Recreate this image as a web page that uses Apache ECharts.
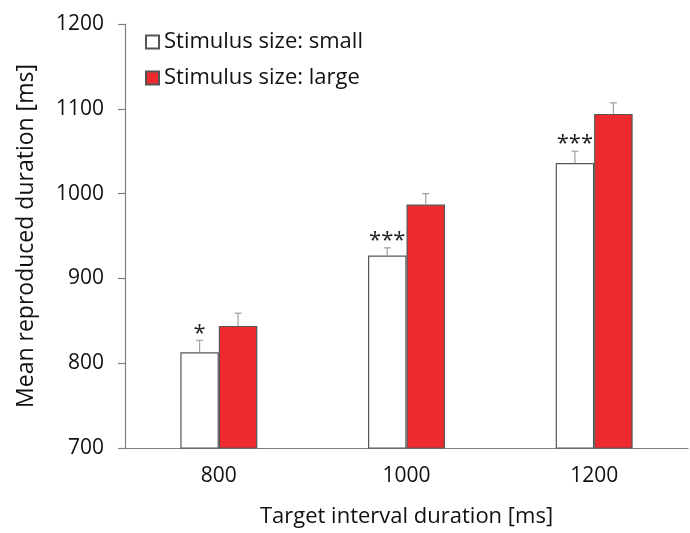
<!DOCTYPE html>
<html><head><meta charset="utf-8">
<script src="https://cdn.jsdelivr.net/npm/echarts@6/dist/echarts.min.js"></script>
<style>html,body{margin:0;padding:0;background:#fff}#c{width:690px;height:533px}</style>
</head><body><div id="c"></div>
<script>
const categories = ['800', '1000', '1200'];
const smallValues = [813, 927, 1036];
const smallErrTop = [827, 936, 1050];
const largeValues = [844, 987, 1094];
const largeErrTop = [859, 1000, 1107];
const significance = ['*', '***', '***'];
const yTicks = [700, 800, 900, 1000, 1100, 1200];

const FONT = '"Open Sans", "Noto Sans", sans-serif';
const GAP = 0.59;

function errRender(side, stars) {
  return function (params, api) {
    const i = api.value(0);
    const v = api.value(1);
    const e = api.value(2);
    const band = api.size([1, 0])[0];
    const bw = band * (1 - GAP) / 2;
    const c = api.coord([i, v]);
    const t = api.coord([i, e]);
    const x = c[0] + side * bw / 2;
    const children = [
      { type: 'line', shape: { x1: x, y1: c[1], x2: x, y2: t[1] }, style: { stroke: '#a0a0a0', lineWidth: 1.2 } },
      { type: 'line', shape: { x1: x - 3.5, y1: t[1], x2: x + 3.5, y2: t[1] }, style: { stroke: '#a0a0a0', lineWidth: 1.2 } }
    ];
    if (stars) {
      children.push({ type: 'text', x: x, y: t[1] + 4, style: { text: stars[params.dataIndex], fill: '#222', font: '22px ' + FONT, align: 'center', verticalAlign: 'bottom' } });
    }
    return { type: 'group', children: children };
  };
}

const chart = echarts.init(document.getElementById('c'));
chart.setOption({
  animation: false,
  backgroundColor: '#fff',
  grid: { left: 125, right: 2, top: 24, bottom: 84 },
  legend: {
    orient: 'vertical', left: 140, top: 26, itemGap: 14,
    itemWidth: 13, itemHeight: 13, icon: 'rect',
    textStyle: { fontFamily: FONT, fontSize: 22, color: '#111' },
    data: ['Stimulus size: small', 'Stimulus size: large']
  },
  xAxis: {
    type: 'category', data: categories,
    name: 'Target interval duration [ms]', nameLocation: 'middle', nameGap: 58,
    nameTextStyle: { fontFamily: FONT, fontSize: 22, color: '#111' },
    axisLine: { lineStyle: { color: '#808080', width: 1.2 } },
    axisTick: { show: false },
    axisLabel: { fontFamily: FONT, fontSize: 21, color: '#111', margin: 18 }
  },
  yAxis: {
    type: 'value', min: 700, max: 1200, interval: 100,
    name: 'Mean reproduced duration [ms]', nameLocation: 'middle', nameGap: 87,
    nameTextStyle: { fontFamily: FONT, fontSize: 23, color: '#111' },
    axisLine: { show: true, lineStyle: { color: '#808080', width: 1.2 } },
    axisTick: { show: true, length: 7, lineStyle: { color: '#808080', width: 1.2 } },
    splitLine: { show: false },
    axisLabel: { fontFamily: FONT, fontSize: 21, color: '#111', margin: 21,
      formatter: v => yTicks.includes(v) ? String(v) : '' }
  },
  series: [
    { name: 'Stimulus size: small', type: 'bar', data: smallValues, barGap: '0%', barCategoryGap: '59%',
      itemStyle: { color: '#ffffff', borderColor: '#555', borderWidth: 1.2 } },
    { name: 'Stimulus size: large', type: 'bar', data: largeValues, barGap: '0%', barCategoryGap: '59%',
      itemStyle: { color: '#ee2a2e', borderColor: '#555', borderWidth: 1.2 } },
    { type: 'custom', renderItem: errRender(-1, significance), z: 5,
      data: categories.map((c, i) => [i, smallValues[i], smallErrTop[i]]) },
    { type: 'custom', renderItem: errRender(1, null), z: 5,
      data: categories.map((c, i) => [i, largeValues[i], largeErrTop[i]]) }
  ]
});
</script></body></html>
